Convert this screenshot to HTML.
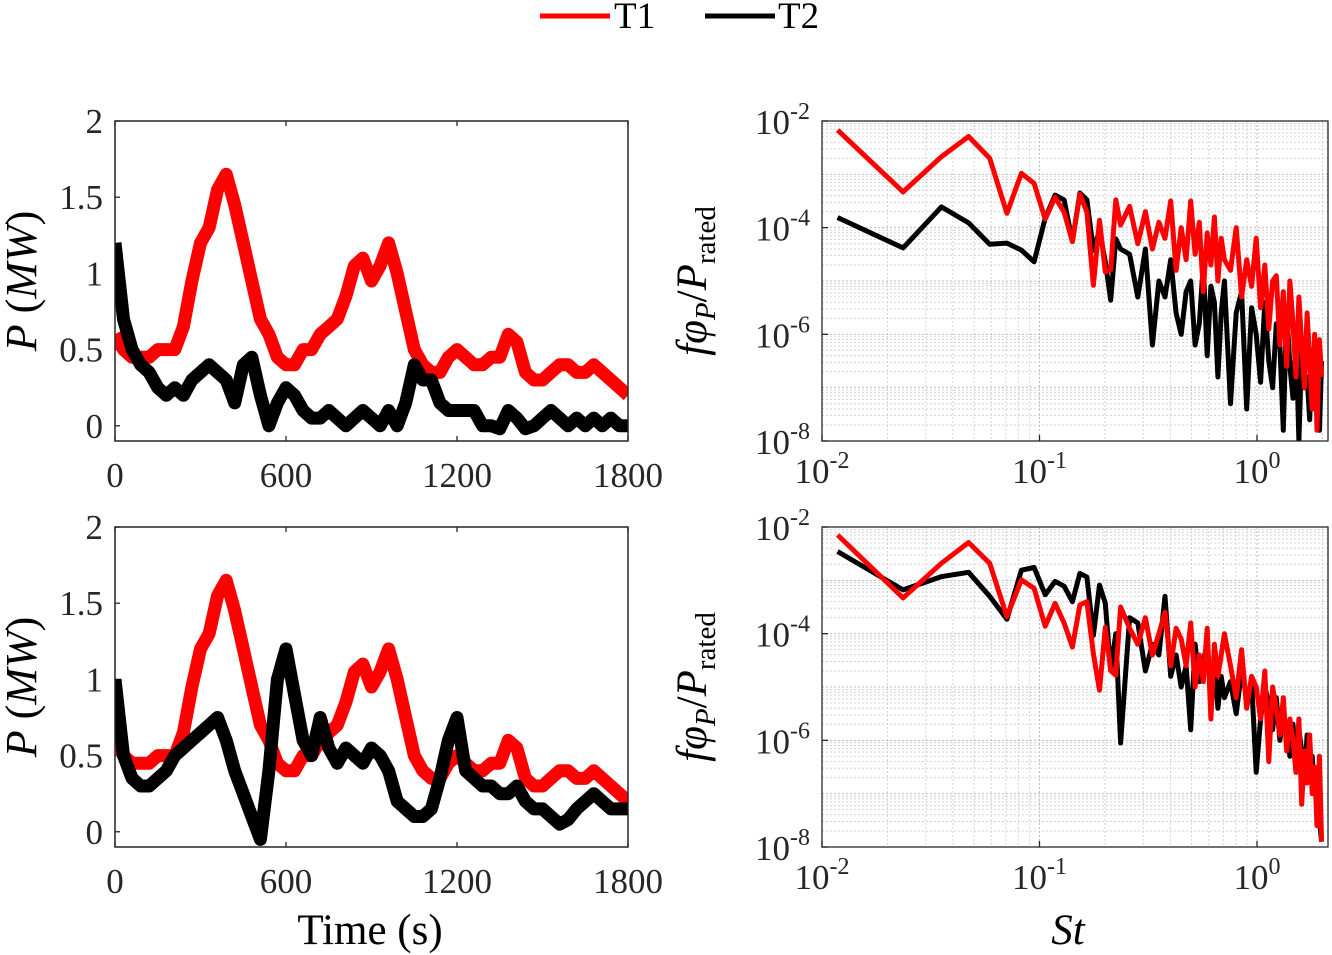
<!DOCTYPE html>
<html><head><meta charset="utf-8">
<style>
html,body{margin:0;padding:0;background:#fff;}
svg{display:block;font-family:"Liberation Serif",serif;}
</style></head>
<body>
<svg id="fig" width="1332" height="955" viewBox="0 0 1332 955" xmlns="http://www.w3.org/2000/svg">
<g>
<line x1="540" y1="16" x2="610" y2="16" stroke="#f00" stroke-width="5"/>
<text x="614" y="28" font-size="37">T1</text>
<line x1="705" y1="16" x2="775" y2="16" stroke="#000" stroke-width="5"/>
<text x="778" y="28" font-size="37">T2</text>
</g>
<text x="370" y="944" font-size="43" text-anchor="middle">Time (s)</text>
<text x="1068" y="944" font-size="43" font-style="italic" text-anchor="middle">St</text>
</svg>
<script>
const times=[];for(let i=0;i<=60;i++)times.push(i*30);
const t1Power=[0.6,0.5,0.45,0.45,0.45,0.5,0.5,0.5,0.65,0.95,1.2,1.3,1.55,1.65,1.45,1.2,0.95,0.7,0.6,0.45,0.4,0.4,0.5,0.5,0.6,0.65,0.7,0.85,1.05,1.1,0.95,1.05,1.2,1.0,0.75,0.5,0.4,0.35,0.35,0.45,0.5,0.45,0.4,0.4,0.45,0.45,0.6,0.55,0.35,0.3,0.3,0.35,0.4,0.4,0.35,0.35,0.4,0.35,0.3,0.25,0.2];
const t2PowerTop=[1.2,0.7,0.5,0.4,0.35,0.25,0.2,0.25,0.2,0.3,0.35,0.4,0.35,0.3,0.15,0.4,0.45,0.2,0.0,0.15,0.25,0.2,0.1,0.05,0.05,0.1,0.05,0.0,0.05,0.1,0.05,0.0,0.1,0.0,0.15,0.4,0.3,0.3,0.15,0.1,0.1,0.1,0.1,0.0,0.0,-0.02,0.1,0.05,-0.02,0.0,0.05,0.1,0.05,0.0,0.05,0.0,0.05,0.0,0.05,0.0,0.0];
const t2PowerBottom=[1.0,0.5,0.35,0.3,0.3,0.35,0.4,0.5,0.55,0.6,0.65,0.7,0.75,0.6,0.4,0.25,0.1,-0.05,0.4,1.0,1.2,0.9,0.6,0.5,0.75,0.55,0.45,0.55,0.5,0.45,0.55,0.5,0.4,0.2,0.15,0.1,0.1,0.15,0.35,0.6,0.75,0.4,0.35,0.3,0.3,0.25,0.25,0.3,0.2,0.15,0.15,0.1,0.05,0.08,0.15,0.2,0.25,0.2,0.15,0.15,0.15];
const timeTicks=[0,600,1200,1800];
const powerTicks=[0,0.5,1,1.5,2];
const powerTickLabels=["0","0.5","1","1.5","2"];
const specK=[1,2,3,4,5,6,7,8,9,10,11,12,13,14,15,16,17,18,19,20,22,24,26,28,30,32,34,36,38,40,42,44,46,48,50,52,54,56,58,60,64,68,72,76,80,84,88,92,96,100,104,108,112,116,120,124,128,132,136,140,144,148,152,156,160,164,168];
const specTopT1=[-2.17,-3.33,-2.67,-2.29,-2.70,-3.73,-2.98,-3.17,-3.84,-3.43,-3.71,-4.26,-3.37,-3.71,-5.08,-3.86,-4.83,-4.79,-3.48,-3.95,-3.6,-4.3,-3.7,-4.4,-3.9,-4.2,-3.5,-4.8,-4.0,-4.6,-3.5,-4.5,-3.9,-5.2,-4.1,-4.7,-3.8,-5.0,-4.2,-4.6,-4.8,-4.0,-5.3,-4.6,-5.1,-4.2,-5.5,-4.7,-5.9,-5.0,-4.9,-6.2,-5.2,-6.6,-5.0,-5.8,-6.8,-5.3,-6.2,-7.0,-5.6,-6.5,-7.4,-6.0,-7.8,-6.1,-6.8];
const specTopT2=[-3.81,-4.38,-3.61,-3.91,-4.31,-4.29,-4.42,-4.64,-3.82,-3.39,-3.48,-4.26,-3.35,-3.48,-4.42,-4.05,-4.64,-5.36,-4.21,-4.40,-4.5,-5.3,-4.4,-6.2,-5.0,-5.3,-4.6,-5.6,-6.0,-5.2,-5.0,-6.2,-5.8,-4.7,-6.4,-5.1,-5.4,-6.8,-5.6,-5.0,-7.3,-5.6,-5.2,-7.4,-5.5,-6.0,-6.9,-5.4,-6.5,-7.0,-5.8,-6.2,-7.8,-5.5,-6.6,-7.2,-6.0,-8.0,-6.3,-7.0,-6.8,-7.6,-6.3,-7.2,-6.9,-7.8,-6.5];
const specBotT1=[-2.15,-3.33,-2.68,-2.29,-2.68,-3.68,-2.99,-3.15,-3.86,-3.43,-3.80,-4.25,-3.46,-3.40,-4.38,-5.06,-3.88,-4.69,-4.78,-3.50,-3.9,-4.2,-3.7,-4.4,-4.0,-3.6,-4.6,-3.9,-4.1,-4.6,-3.8,-5.0,-4.4,-4.9,-3.9,-5.6,-4.2,-4.8,-4.4,-4.0,-4.6,-5.2,-4.3,-5.4,-4.8,-5.0,-5.6,-4.7,-6.4,-5.0,-5.4,-5.9,-5.2,-6.2,-5.6,-6.0,-6.6,-5.6,-7.2,-6.2,-6.8,-5.9,-7.0,-6.5,-7.6,-6.3,-7.9];
const specBotT2=[-2.46,-3.18,-2.93,-2.85,-3.30,-3.73,-2.81,-2.76,-3.27,-3.02,-3.11,-3.40,-2.87,-2.94,-4.03,-3.09,-3.43,-4.69,-4.00,-6.05,-3.7,-3.8,-4.7,-4.2,-4.4,-3.3,-4.8,-4.4,-5.0,-4.6,-5.8,-4.2,-4.9,-4.5,-4.2,-5.0,-4.6,-5.4,-4.8,-5.2,-4.9,-5.5,-4.7,-5.2,-4.9,-6.6,-5.6,-5.0,-5.3,-5.8,-5.2,-6.0,-5.5,-5.8,-6.3,-5.7,-6.6,-5.8,-6.2,-6.8,-5.9,-6.5,-6.3,-7.0,-6.6,-7.5,-7.9];
const specXTicks=[-2,-1,0];
const specYTicks=[-2,-4,-6,-8];

const NS="http://www.w3.org/2000/svg";
const svg=document.getElementById('fig');
function mk(tag,attrs,parent){const e=document.createElementNS(NS,tag);for(const k in attrs)e.setAttribute(k,attrs[k]);(parent||svg).appendChild(e);return e;}

function timePanel(top,s1,s2,name){
  const L=115,R=628,T=top,B=top+320;
  const g=mk('g',{});
  
  
  const xs=t=>L+t/1800*(R-L);
  const ys=v=>T+(2-v)/2.1*(B-T);
  const cid='clip-'+name;
  const cp=mk('clipPath',{id:cid},g);mk('rect',{x:L,y:T,width:R-L,height:B-T},cp);
  const box=mk('rect',{x:L,y:T,width:R-L,height:B-T,fill:'#fff',stroke:'#262626','stroke-width':1.3},g);
  
  
  timeTicks.forEach(t=>{
    mk('line',{x1:xs(t),y1:B,x2:xs(t),y2:B-5,stroke:'#262626','stroke-width':1.3},g);
    mk('line',{x1:xs(t),y1:T,x2:xs(t),y2:T+5,stroke:'#262626','stroke-width':1.3},g);
    const tx=mk('text',{x:xs(t),y:B+46,'font-size':35,'text-anchor':'middle',fill:'#262626'},g);
    tx.textContent=t;
    
    
  });
  powerTicks.forEach((v,i)=>{
    mk('line',{x1:L,y1:ys(v),x2:L+5,y2:ys(v),stroke:'#262626','stroke-width':1.3},g);
    const tx=mk('text',{x:L-12,y:ys(v)+12,'font-size':35,'text-anchor':'end',fill:'#262626'},g);
    tx.textContent=powerTickLabels[i];
    
    
  });
  const yl=mk('text',{x:0,y:0,'font-size':44,'text-anchor':'middle',transform:`translate(36,${(T+B)/2}) rotate(-90)`},g);
  yl.innerHTML='<tspan font-style="italic">P</tspan> (<tspan font-style="italic">MW</tspan>)';
  
  
  [[s1,'#f00','series-t1'],[s2,'#000','series-t2']].forEach(([s,c,n])=>{
    const d=s.map((v,i)=>(i?'L':'M')+xs(times[i]).toFixed(1)+','+ys(v).toFixed(1)).join('');
    const p=mk('path',{d,fill:'none',stroke:c,'stroke-width':13,'stroke-linejoin':'round','clip-path':`url(#${cid})`},g);
    
    
  });
  mk('rect',{x:L,y:T,width:R-L,height:B-T,fill:'none',stroke:'#262626','stroke-width':1.3},g);
}

function specPanel(top,s1,s2,name){
  const L=822,R=1328,T=top,B=top+320;
  const g=mk('g',{});
  
  
  const xs=lf=>L+(lf+2)*217.5;
  const ys=le=>T+(-2-le)*(B-T)/6;
  const cid='clip-'+name;
  const cp=mk('clipPath',{id:cid},g);mk('rect',{x:L,y:T,width:R-L,height:B-T},cp);
  const box=mk('rect',{x:L,y:T,width:R-L,height:B-T,fill:'#fff'},g);
  
  
  for(let dec=-2;dec<=0;dec++)for(let m=1;m<10;m++){
    const x=xs(dec+Math.log10(m));if(x>R)break;
    mk('line',{x1:x,y1:T,x2:x,y2:B,stroke:m==1?'#bbb':'#d4d4d4','stroke-width':1,'stroke-dasharray':'2,2'},g);
  }
  for(let dec=-8;dec<-2;dec++)for(let m=1;m<10;m++){
    const y=ys(dec+Math.log10(m));
    mk('line',{x1:L,y1:y,x2:R,y2:y,stroke:m==1?'#bbb':'#d4d4d4','stroke-width':1,'stroke-dasharray':'2,2'},g);
  }
  specXTicks.forEach(e=>{
    mk('line',{x1:xs(e),y1:B,x2:xs(e),y2:B-6,stroke:'#262626','stroke-width':1.3},g);
    const tx=mk('text',{x:xs(e),y:B+42,'font-size':35,'text-anchor':'middle',fill:'#262626'},g);
    tx.innerHTML=`10<tspan dy="-15" font-size="24">${e}</tspan>`;
    
    
  });
  specYTicks.forEach(e=>{
    mk('line',{x1:L,y1:ys(e),x2:L+6,y2:ys(e),stroke:'#262626','stroke-width':1.3},g);
    const tx=mk('text',{x:L-12,y:ys(e)+13,'font-size':35,'text-anchor':'end',fill:'#262626'},g);
    tx.innerHTML=`10<tspan dy="-15" font-size="24">${e}</tspan>`;
    
    
  });
  const yl=mk('text',{x:0,y:0,'font-size':43,'text-anchor':'middle',transform:`translate(706,${(T+B)/2}) rotate(-90)`},g);
  yl.innerHTML='<tspan font-style="italic">fφ</tspan><tspan font-style="italic" font-size="29" dy="9">P</tspan><tspan dy="-9">/</tspan><tspan font-style="italic">P</tspan><tspan font-size="29" dy="9">rated</tspan>';
  
  
  [[s2,'#000','series-t2'],[s1,'#f00','series-t1']].forEach(([s,c,n])=>{
    const d=s.map((v,i)=>(i?'L':'M')+xs(Math.log10(0.0118*specK[i])).toFixed(1)+','+ys(v).toFixed(1)).join('');
    const p=mk('path',{d,fill:'none',stroke:c,'stroke-width':5,'stroke-linejoin':'round','clip-path':`url(#${cid})`},g);
    
    
  });
  mk('rect',{x:L,y:T,width:R-L,height:B-T,fill:'none',stroke:'#262626','stroke-width':1.3},g);
}

timePanel(121,t1Power,t2PowerTop,'power-top');
timePanel(527,t1Power,t2PowerBottom,'power-bottom');
specPanel(121,specTopT1,specTopT2,'spectrum-top');
specPanel(527,specBotT1,specBotT2,'spectrum-bottom');
</script>
</body></html>
